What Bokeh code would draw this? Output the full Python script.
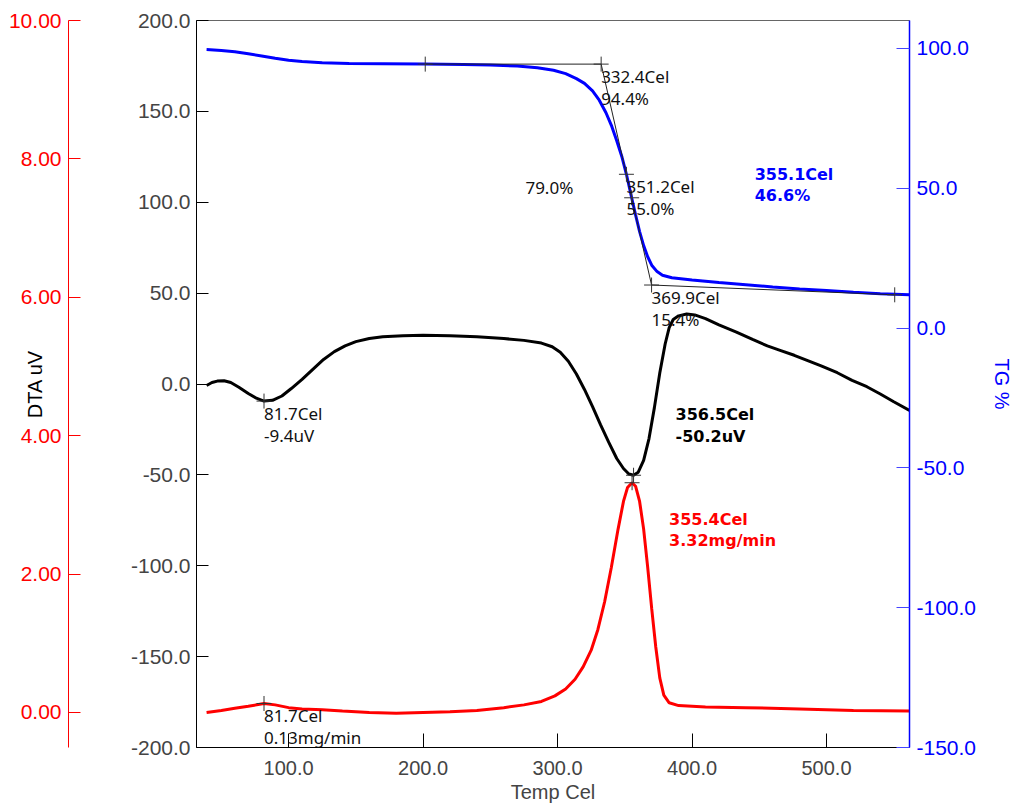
from bokeh.plotting import figure
from bokeh.models import Range1d, LinearAxis, FixedTicker, NumeralTickFormatter, ColumnDataSource
from bokeh.core.properties import value
from bokeh.embed import file_html
from bokeh.resources import INLINE

# ---------------- data ----------------
temp_dta = [39, 43, 47, 52, 57, 63, 70, 76, 81.7, 88, 95, 102, 110, 118, 126, 134, 142, 150, 160, 170,
            185, 200, 220, 240, 260, 275, 288, 296, 302, 308, 314, 320, 326, 332, 338, 344, 349, 353,
            356.5, 360, 364, 368, 372, 376, 380, 383, 386, 390, 396, 402, 410, 420, 433, 445, 456,
            466, 476, 486, 496, 508, 519, 530, 540, 550, 561.7]
dta = [-0.8, 0.8, 1.6, 1.8, 0.8, -1.8, -5.2, -7.8, -9.4, -9.0, -6.6, -2.5, 2.5, 8.0, 13.5, 17.8, 21.0,
       23.3, 25.0, 26.0, 26.6, 26.8, 26.6, 26.0, 25.0, 24.0, 22.5, 20.5, 17.5, 12.5, 5.5, -3.0, -12.5,
       -22.5, -32.0, -41.0, -46.5, -49.5, -50.2, -48.5, -42.0, -30.0, -13.0, 6.0, 22.0, 31.0, 35.5,
       37.5, 38.5, 38.0, 36.0, 32.5, 28.5, 24.5, 21.0, 18.4, 15.8, 12.9, 10.0, 6.2, 2.0, -1.5, -5.5,
       -9.8, -14.6]

temp_tg = [39, 50, 60, 70, 80, 90, 100, 110, 125, 145, 170, 200, 230, 250, 270, 285, 297, 306, 314,
           320, 326, 331, 336, 340, 344, 348, 351.2, 355.1, 358, 361, 364, 367, 370, 374, 378, 385,
           400, 420, 440, 460, 480, 500, 520, 540, 561.7]
tg = [99.6, 99.3, 98.8, 98.1, 97.3, 96.5, 95.8, 95.3, 94.9, 94.6, 94.5, 94.4, 94.3, 94.1, 93.7, 93.1,
      92.2, 91.0, 89.2, 87.5, 84.8, 81.5, 77.0, 72.5, 67.0, 61.0, 55.0, 46.6, 40.5, 34.5, 29.5, 25.5,
      22.5, 20.2, 18.9, 18.0, 17.2, 16.3, 15.5, 14.7, 14.0, 13.4, 12.8, 12.3, 11.9]

temp_dtg = [39, 50, 60, 70, 81.7, 90, 100, 110, 125, 140, 160, 180, 200, 220, 240, 260, 275, 288, 298,
            306, 313, 319, 325, 330, 335, 340, 345, 349, 352, 355.4, 358, 361, 364, 367, 370, 373, 376,
            379, 383, 390, 410, 440, 480, 520, 561.7]
dtg = [0.0, 0.03, 0.06, 0.09, 0.13, 0.11, 0.07, 0.05, 0.04, 0.02, 0.0, -0.01, 0.0, 0.01, 0.03, 0.07,
       0.11, 0.16, 0.24, 0.34, 0.48, 0.66, 0.9, 1.2, 1.6, 2.1, 2.65, 3.05, 3.25, 3.32, 3.27, 3.05, 2.65,
       2.1, 1.5, 0.95, 0.5, 0.25, 0.14, 0.1, 0.08, 0.07, 0.05, 0.03, 0.02]

# tangent construction on TG (onset / endset)
tangent_t = [201.6, 332.4, 369.9, 550.7]
tangent_tg = [94.4, 94.4, 15.4, 11.9]

# tick values
x_ticks = [100, 200, 300, 400, 500]
dta_ticks = [-200, -150, -100, -50, 0, 50, 100, 150, 200]
tg_ticks = [-150, -100, -50, 0, 50, 100]
dtg_ticks = [0, 2, 4, 6, 8, 10]

# annotation points
ann_dta_t = [81.7]
ann_dta_v = [-9.4]
ann_dta_txt = ["81.7Cel\n-9.4uV"]
ann_dtg_t = [81.7]
ann_dtg_v = [0.13]
ann_dtg_txt = ["81.7Cel\n0.13mg/min"]
ann_tg_t = [332.4, 351.2, 369.9, 351.2]
ann_tg_v = [94.4, 55.0, 15.4, 55.0]
ann_tg_txt = ["332.4Cel\n94.4%", "351.2Cel\n55.0%", "369.9Cel\n15.4%", "79.0%"]

peak_dta_t = [356.5]
peak_dta_v = [-50.2]
peak_dta_txt = ["356.5Cel\n-50.2uV"]
peak_dtg_t = [355.4]
peak_dtg_v = [3.32]
peak_dtg_txt = ["355.4Cel\n3.32mg/min"]
peak_tg_t = [355.1]
peak_tg_v = [46.6]
peak_tg_txt = ["355.1Cel\n46.6%"]

cross_tg_t = [201.6, 332.4, 351.2, 355.1, 369.9, 550.7]
cross_tg_v = [94.4, 94.4, 55.0, 46.6, 15.4, 11.9]

# styles / offsets (screen px)
ann_tg_dx = [0, 0, 0, -101]
ann_tg_dy = [1, 1, 1, 2]

RED = "#ff0000"
BLUE = "#0000ff"
AXFONT = "Liberation Sans"
AXSIZE = "21px"

p = figure(width=1016, height=807, x_range=Range1d(31.5, 561.7), y_range=Range1d(-200, 200),
           output_backend="svg", toolbar_location=None,
           min_border_left=196, min_border_right=107, min_border_top=20, min_border_bottom=60)
p.extra_y_ranges = {"tg": Range1d(-150, 110), "dtg": Range1d(-0.506, 10.0)}
p.grid.visible = False
p.outline_line_color = "#666666"
p.outline_line_width = 1
p.background_fill_color = "white"
p.border_fill_color = "white"

# x axis
xa = p.xaxis[0]
xa.ticker = FixedTicker(ticks=x_ticks)
xa.formatter = NumeralTickFormatter(format="0.0")
xa.major_tick_in = 14
xa.major_tick_out = 0
xa.minor_tick_line_color = None
xa.major_label_standoff = 13
xa.axis_label = "Temp Cel"
xa.axis_label_standoff = 3
xa.axis_label_text_font_style = "normal"
xa.axis_label_text_font = AXFONT
xa.axis_label_text_font_size = "20px"
xa.major_label_text_font = AXFONT
xa.major_label_text_font_size = "20px"
xa.axis_line_color = "black"
xa.major_tick_line_color = "black"

# black DTA axis (left, next to the frame)
ya = p.yaxis[0]
ya.ticker = FixedTicker(ticks=dta_ticks)
ya.formatter = NumeralTickFormatter(format="0.0")
ya.major_tick_in = 12
ya.major_tick_out = 0
ya.minor_tick_line_color = None
ya.major_label_standoff = 6
ya.major_label_text_font = AXFONT
ya.major_label_text_font_size = AXSIZE
ya.axis_label = "\u00a0"
ya.axis_label_standoff = 33
ya.axis_label_text_font_size = AXSIZE
ya.axis_line_color = "black"
ya.major_tick_line_color = "black"

# red DTG axis (far left)
ra = LinearAxis(y_range_name="dtg", ticker=FixedTicker(ticks=dtg_ticks),
                formatter=NumeralTickFormatter(format="0.00"))
ra.major_tick_in = 12
ra.major_tick_out = 0
ra.minor_tick_line_color = None
ra.major_label_standoff = 7
ra.major_label_text_font = AXFONT
ra.major_label_text_font_size = AXSIZE
ra.major_label_text_color = RED
ra.axis_line_color = RED
ra.major_tick_line_color = RED
ra.axis_label = "DTA uV"
ra.axis_label_text_color = "black"
ra.axis_label_text_font = AXFONT
ra.axis_label_text_font_size = "20px"
ra.axis_label_text_font_style = "normal"
ra.axis_label_standoff = -40
p.add_layout(ra, "left")

# blue TG axis (right)
ba = LinearAxis(y_range_name="tg", ticker=FixedTicker(ticks=tg_ticks),
                formatter=NumeralTickFormatter(format="0.0"))
ba.major_tick_in = 13
ba.major_tick_out = 0
ba.minor_tick_line_color = None
ba.major_label_standoff = 7
ba.major_label_text_font = AXFONT
ba.major_label_text_font_size = AXSIZE
ba.major_label_text_color = BLUE
ba.axis_line_color = BLUE
ba.axis_line_width = 1.5
ba.major_tick_line_color = "#4444ff"
ba.axis_label = "TG %"
ba.axis_label_text_color = BLUE
ba.axis_label_text_font = AXFONT
ba.axis_label_text_font_size = "20px"
ba.axis_label_text_font_style = "normal"
ba.axis_label_standoff = 12
p.add_layout(ba, "right")

# curves
p.line(temp_dtg, dtg, y_range_name="dtg", line_color=RED, line_width=3)
p.line(temp_dta, dta, line_color="black", line_width=3)
p.line(temp_tg, tg, y_range_name="tg", line_color=BLUE, line_width=3)

# tangent construction
p.line(tangent_t, tangent_tg, y_range_name="tg", line_color="#222222", line_width=1)

# crosses
CR = dict(marker="cross", size=15, line_color="#333333", line_width=1)
p.scatter(cross_tg_t, cross_tg_v, y_range_name="tg", **CR)
p.scatter(ann_dta_t + peak_dta_t, ann_dta_v + peak_dta_v, **CR)
p.scatter(ann_dtg_t + peak_dtg_t, ann_dtg_v + peak_dtg_v, y_range_name="dtg", **CR)

PLAIN = dict(text_font=value("Noto Sans"), text_font_size=value("17px"), text_color="#111111",
             text_align="left", text_baseline="top", text_line_height=0.95)
BOLD = dict(text_font=value("DejaVu Sans"), text_font_size=value("16px"), text_font_style="bold",
            text_align="left", text_baseline="top", text_line_height=1.13)

p.text(x=ann_dta_t, y=ann_dta_v, text=ann_dta_txt, x_offset=0, y_offset=1, **PLAIN)
p.text(x=ann_dtg_t, y=ann_dtg_v, text=ann_dtg_txt, x_offset=0, y_offset=1, y_range_name="dtg", **PLAIN)
src_tg = ColumnDataSource(dict(x=ann_tg_t, y=ann_tg_v, text=ann_tg_txt, dx=ann_tg_dx, dy=ann_tg_dy))
p.text(x="x", y="y", text="text", x_offset="dx", y_offset="dy", source=src_tg, y_range_name="tg", **PLAIN)

p.text(x=peak_dta_t, y=peak_dta_v, text=peak_dta_txt, x_offset=42, y_offset=-70,
       text_color="black", **BOLD)
p.text(x=peak_dtg_t, y=peak_dtg_v, text=peak_dtg_txt, x_offset=37, y_offset=27,
       text_color=RED, y_range_name="dtg", **BOLD)
p.text(x=peak_tg_t, y=peak_tg_v, text=peak_tg_txt, x_offset=123, y_offset=-33,
       text_color=BLUE, y_range_name="tg", **BOLD)

open("out.html", "w").write(file_html(p, INLINE))
